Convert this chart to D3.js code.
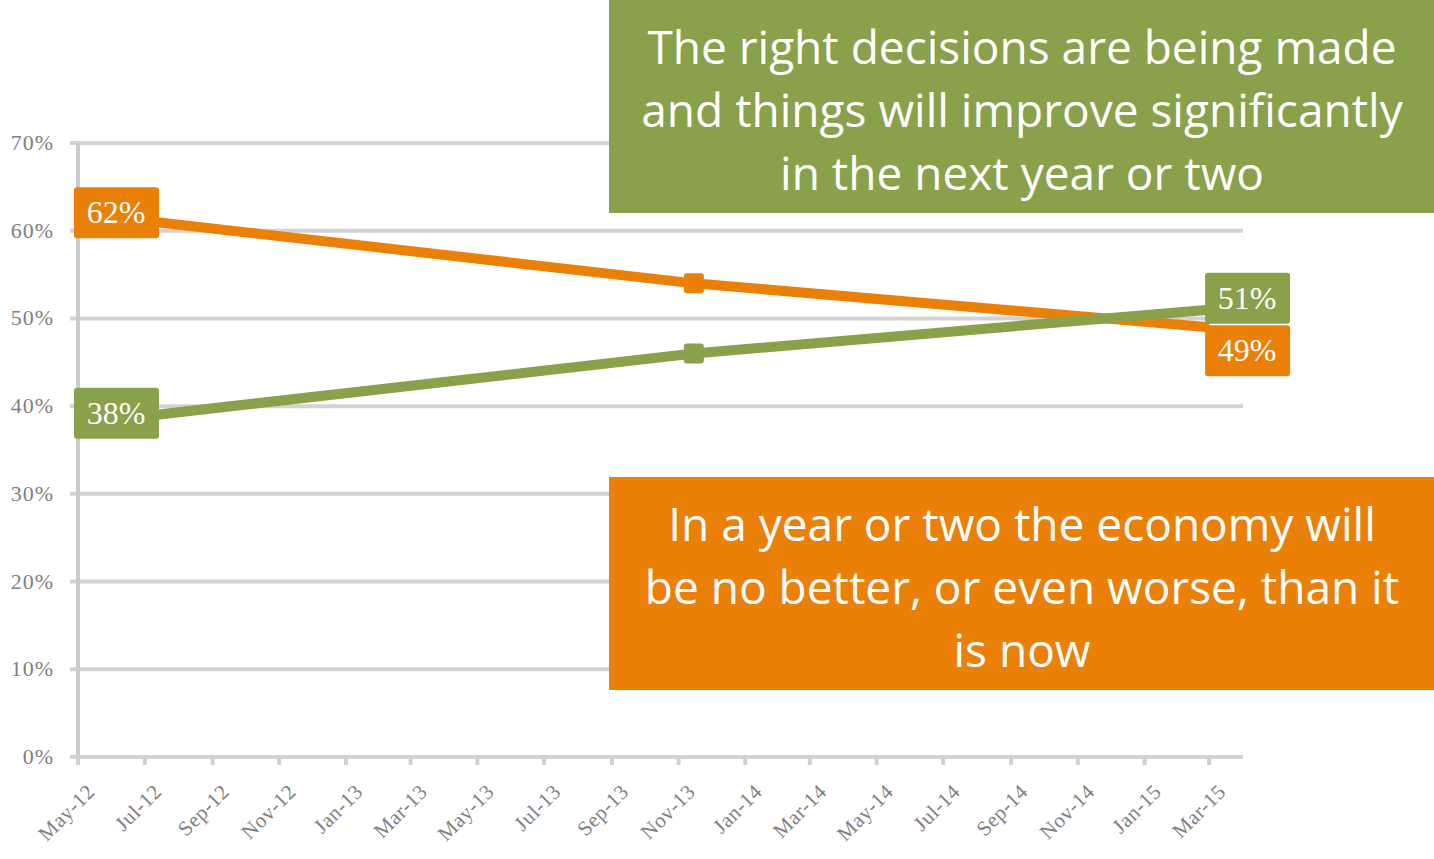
<!DOCTYPE html>
<html>
<head>
<meta charset="utf-8">
<script src="https://cdn.jsdelivr.net/npm/d3@7"></script>
<style>
  body { margin: 0; background: #fff; }
  svg { display: block; }
</style>
</head>
<body>
<script>
// data
const dates = ["2012-05-01", "2013-11-15", "2015-03-01"];
const worse = [62, 54, 49];     // orange: no better / worse
const better = [38, 46, 51];    // green: things will improve
const yTicks = [0, 10, 20, 30, 40, 50, 60, 70];
const xTickLabels = ["May-12", "Jul-12", "Sep-12", "Nov-12", "Jan-13", "Mar-13", "May-13", "Jul-13", "Sep-13",
  "Nov-13", "Jan-14", "Mar-14", "May-14", "Jul-14", "Sep-14", "Nov-14", "Jan-15", "Mar-15"];
const greenNote = ["The right decisions are being made", "and things will improve significantly", "in the next year or two"];
const orangeNote = ["In a year or two the economy will", "be no better, or even worse, than it", "is now"];

const ORANGE = "#ea8008", GREEN = "#88a14a";
const width = 1434, height = 859;

const parse = d3.timeParse("%Y-%m-%d");
const fmt = d3.timeFormat("%b-%y");

const svg = d3.select("body").append("svg")
  .attr("width", width)
  .attr("height", height);

const x = d3.scaleTime()
  .domain([parse("2012-05-01"), parse("2015-04-01")])
  .range([78, 1243]);

const y = d3.scaleLinear()
  .domain([0, 70])
  .range([757, 143]);

// gridlines
svg.append("g")
  .selectAll("line")
  .data(yTicks)
  .enter().append("line")
  .attr("x1", 70).attr("x2", 1243)
  .attr("y1", d => y(d)).attr("y2", d => y(d))
  .attr("stroke", "#d3d3d3")
  .attr("stroke-width", 4);

// y axis line
svg.append("line")
  .attr("x1", 78).attr("x2", 78)
  .attr("y1", y(70)).attr("y2", y(0) + 8)
  .attr("stroke", "#c9cbcf")
  .attr("stroke-width", 4);

// y labels
svg.append("g")
  .selectAll("text")
  .data(yTicks)
  .enter().append("text")
  .attr("x", 54)
  .attr("y", d => y(d) + 7)
  .attr("text-anchor", "end")
  .style("font-family", "'Liberation Serif', serif")
  .style("font-size", "22px")
  .style("letter-spacing", "1px")
  .style("fill", "#808080")
  .text(d => d + "%");

// x ticks (every 2 months)
const xTicks = d3.timeMonth.every(2).range(parse("2012-05-01"), parse("2015-04-01"));
const xAxis = svg.append("g");
xAxis.selectAll("line")
  .data(xTicks)
  .enter().append("line")
  .attr("x1", d => x(d)).attr("x2", d => x(d))
  .attr("y1", y(0)).attr("y2", y(0) + 8)
  .attr("stroke", "#d0d0d0")
  .attr("stroke-width", 4);
xAxis.selectAll("text")
  .data(xTicks)
  .enter().append("text")
  .attr("transform", d => "translate(" + (x(d) + 18) + "," + (y(0) + 36) + ")rotate(-45)")
  .attr("text-anchor", "end")
  .style("font-family", "'Liberation Serif', serif")
  .style("font-size", "21px")
  .style("letter-spacing", "0.5px")
  .style("fill", "#808080")
  .text((d, i) => xTickLabels[i] || fmt(d));

// lines
const series = [
  { values: worse, color: ORANGE, nudge: [0, 0, 24] },
  { values: better, color: GREEN, nudge: [-10, 0, -11] }
];

const line = d3.line()
  .x((d, i) => x(parse(dates[i])))
  .y(d => y(d));

series.forEach(s => {
  svg.append("path")
    .datum(s.values)
    .attr("d", line)
    .attr("fill", "none")
    .attr("stroke", s.color)
    .attr("stroke-width", 10);
});

series.forEach(s => {
  // middle marker
  svg.append("rect")
    .attr("x", x(parse(dates[1])) - 10)
    .attr("y", y(s.values[1]) - 10)
    .attr("width", 20).attr("height", 20)
    .attr("rx", 3)
    .attr("fill", s.color);

  // end labels
  [0, 2].forEach(i => {
    const px = x(parse(dates[i])), py = y(s.values[i]) + s.nudge[i];
    const g = svg.append("g").attr("transform", "translate(" + (px - 4) + "," + (py - 26) + ")");
    g.append("rect")
      .attr("width", 85).attr("height", 51)
      .attr("rx", 3)
      .attr("fill", s.color);
    g.append("text")
      .attr("x", 42).attr("y", 36)
      .attr("text-anchor", "middle")
      .style("font-family", "'Liberation Serif', serif")
      .style("font-size", "32px")
      .style("fill", "#fff")
      .text(s.values[i] + "%");
  });
});

// annotation boxes
function note(lines, color, top) {
  const g = svg.append("g");
  g.append("rect")
    .attr("x", 609).attr("y", top)
    .attr("width", width - 609).attr("height", 213)
    .attr("fill", color);
  g.selectAll("text")
    .data(lines)
    .enter().append("text")
    .attr("x", 1022)
    .attr("y", (d, i) => top + 64 + i * 63)
    .attr("text-anchor", "middle")
    .style("font-family", "'Open Sans', sans-serif")
    .style("font-size", "46px")
    .style("fill", "#fff")
    .text(d => d);
}
note(greenNote, GREEN, 0);
note(orangeNote, ORANGE, 477);
</script>
</body>
</html>
